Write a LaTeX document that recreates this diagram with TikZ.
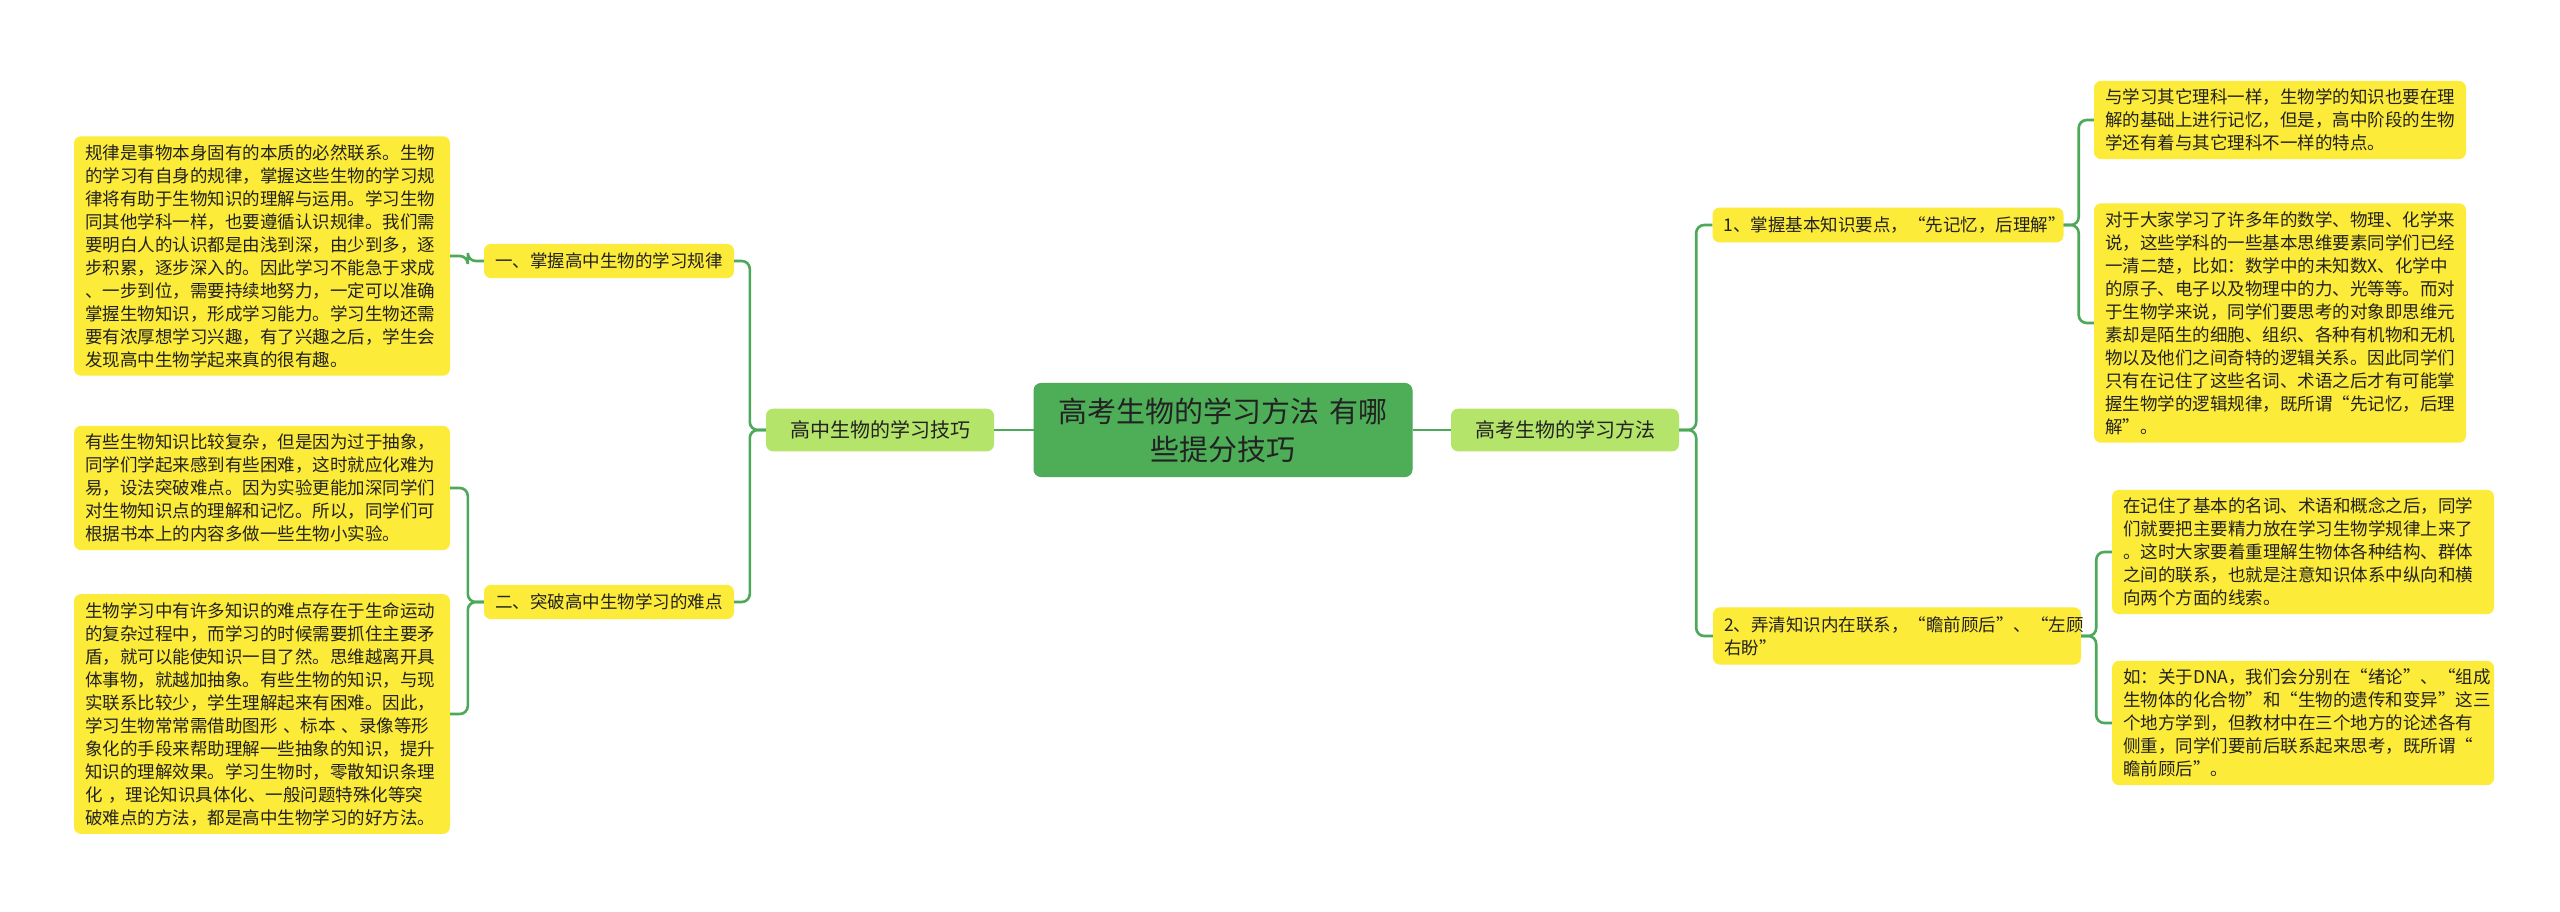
\documentclass[tikz,border=0pt]{standalone}
\usepackage{fontspec}
\setmainfont{Noto Sans CJK SC}
\definecolor{leafy}{HTML}{FDEB3A}
\definecolor{midg}{HTML}{B5E46A}
\definecolor{centg}{HTML}{4EAE58}
\definecolor{lineg}{HTML}{4EA85A}
\definecolor{txt}{HTML}{222222}
\begin{document}
\begin{tikzpicture}[x=1pt,y=-1pt,
  base/.style={rounded corners=7pt,text=txt,inner xsep=11pt,inner ysep=8pt},
  leaf/.style={base,fill=leafy,align=left,font=\fontsize{17.5pt}{23pt}\selectfont},
  topic/.style={base,fill=leafy,align=left,font=\fontsize{17.5pt}{23pt}\selectfont,inner ysep=9pt},
  mid/.style={base,fill=midg,align=center,font=\fontsize{20pt}{24pt}\selectfont,inner ysep=12pt},
  cent/.style={base,fill=centg,draw=lineg,line width=1pt,align=center,font=\fontsize{29pt}{38pt}\selectfont,inner ysep=14pt},
  conn/.style={draw=lineg,line width=2.6pt,rounded corners=8pt}]
\useasboundingbox (0,0) rectangle (2560,911);
\fill[white] (0,0) rectangle (2560,911);

\node[cent,text width=356pt] (C) at (1223,430) {高考生物的学习方法 有哪\\些提分技巧};
\node[mid,text width=206pt] (L1) at (880,430) {高中生物的学习技巧};
\node[mid,text width=206pt] (R1) at (1565,430) {高考生物的学习方法};

\node[topic,text width=228pt] (L2a) at (609,261) {一、掌握高中生物的学习规律};
\node[topic,text width=228pt] (L2b) at (609,602) {二、突破高中生物学习的难点};

\node[leaf,text width=354pt] (A1) at (262,256) {规律是事物本身固有的本质的必然联系。生物\\的学习有自身的规律，掌握这些生物的学习规\\律将有助于生物知识的理解与运用。学习生物\\同其他学科一样，也要遵循认识规律。我们需\\要明白人的认识都是由浅到深，由少到多，逐\\步积累，逐步深入的。因此学习不能急于求成\\、一步到位，需要持续地努力，一定可以准确\\掌握生物知识，形成学习能力。学习生物还需\\要有浓厚想学习兴趣，有了兴趣之后，学生会\\发现高中生物学起来真的很有趣。};
\node[leaf,text width=354pt] (A2) at (262,488) {有些生物知识比较复杂，但是因为过于抽象，\\同学们学起来感到有些困难，这时就应化难为\\易，设法突破难点。因为实验更能加深同学们\\对生物知识点的理解和记忆。所以，同学们可\\根据书本上的内容多做一些生物小实验。};
\node[leaf,text width=354pt] (A3) at (262,714) {生物学习中有许多知识的难点存在于生命运动\\的复杂过程中，而学习的时候需要抓住主要矛\\盾，就可以能使知识一目了然。思维越离开具\\体事物，就越加抽象。有些生物的知识，与现\\实联系比较少，学生理解起来有困难。因此，\\学习生物常常需借助图形 、标本 、录像等形\\象化的手段来帮助理解一些抽象的知识，提升\\知识的理解效果。学习生物时，零散知识条理\\化 ，理论知识具体化、一般问题特殊化等突\\破难点的方法，都是高中生物学习的好方法。};

\node[topic,text width=329pt] (R2a) at (1888,225) {1、掌握基本知识要点，“先记忆，后理解”};
\node[topic,text width=346pt] (R2b) at (1897,636) {2、弄清知识内在联系，“瞻前顾后”、“左顾\\右盼”};

\node[leaf,text width=350pt] (B1) at (2280,120) {与学习其它理科一样，生物学的知识也要在理\\解的基础上进行记忆，但是，高中阶段的生物\\学还有着与其它理科不一样的特点。};
\node[leaf,text width=350pt] (B2) at (2280,323) {对于大家学习了许多年的数学、物理、化学来\\说，这些学科的一些基本思维要素同学们已经\\一清二楚，比如：数学中的未知数X、化学中\\的原子、电子以及物理中的力、光等等。而对\\于生物学来说，同学们要思考的对象即思维元\\素却是陌生的细胞、组织、各种有机物和无机\\物以及他们之间奇特的逻辑关系。因此同学们\\只有在记住了这些名词、术语之后才有可能掌\\握生物学的逻辑规律，既所谓“先记忆，后理\\解”。};
\node[leaf,text width=360pt] (B3) at (2303,552) {在记住了基本的名词、术语和概念之后，同学\\们就要把主要精力放在学习生物学规律上来了\\。这时大家要着重理解生物体各种结构、群体\\之间的联系，也就是注意知识体系中纵向和横\\向两个方面的线索。};
\node[leaf,text width=360pt] (B4) at (2303,723) {如：关于DNA，我们会分别在“绪论”、“组成\\生物体的化合物”和“生物的遗传和变异”这三\\个地方学到，但教材中在三个地方的论述各有\\侧重，同学们要前后联系起来思考，既所谓“\\瞻前顾后”。};

\begin{scope}[on background layer/.try]
\end{scope}
\draw[conn] (C.west) -- (L1.east);
\draw[conn] (C.east) -- (R1.west);
\draw[conn] (L1.west) -- ++(-16,0) |- (L2a.east);
\draw[conn] (L1.west) -- ++(-16,0) |- (L2b.east);
\draw[conn] (L2a.west) -- ++(-16,0) |- (A1.east);
\draw[conn] (L2b.west) -- ++(-16,0) |- (A2.east);
\draw[conn] (L2b.west) -- ++(-16,0) |- (A3.east);
\draw[conn] (R1.east) -- ++(17,0) |- (R2a.west);
\draw[conn] (R1.east) -- ++(17,0) |- (R2b.west);
\draw[conn] (R2a.east) -- ++(15,0) |- (B1.west);
\draw[conn] (R2a.east) -- ++(15,0) |- (B2.west);
\draw[conn] (R2b.east) -- ++(15,0) |- (B3.west);
\draw[conn] (R2b.east) -- ++(15,0) |- (B4.west);
\end{tikzpicture}
\end{document}
